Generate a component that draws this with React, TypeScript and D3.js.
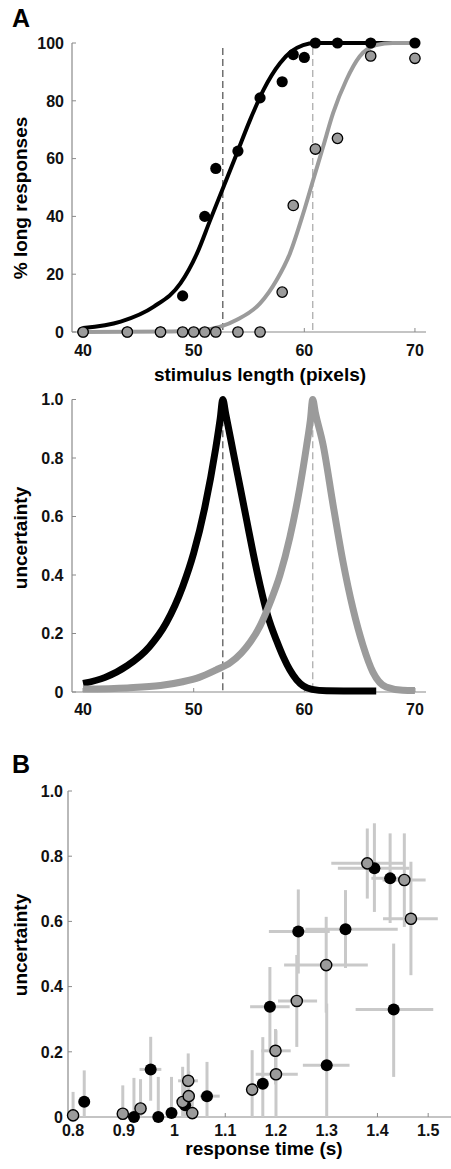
import React from "react";
import * as d3 from "d3";

// ---- panel A (top): psychometric data, % long responses ----
const stimBlack = [40, 44, 47, 49, 51, 52, 54, 56, 58, 59, 60, 61, 63, 66, 70];
const pctBlack = [0, 0, 0, 12.5, 40, 56.6, 62.6, 81, 86.6, 96, 95, 100, 100, 100, 100];
const stimGray = [40, 44, 47, 49, 50, 51, 52, 54, 56, 58, 59, 61, 63, 66, 70];
const pctGray = [0, 0, 0, 0, 0, 0, 0, 0, 0, 13.8, 43.8, 63.3, 67, 95.5, 94.7];

// fitted curves
const fitBlackX = [40, 43.4, 46.4, 48.8, 50.3, 51.5, 52.7, 53.9, 55.1, 56.3, 57.8, 58.8, 59.9, 61, 70];
const fitBlackY = [1.4, 3.6, 8.8, 16.8, 27.2, 38.8, 50.3, 61.8, 73.4, 83.7, 93, 97, 99.3, 100, 100];
const fitGrayX = [40, 48, 50.9, 53.9, 56, 57.5, 58.7, 59.9, 60.8, 61.7, 62.6, 63.8, 65, 66.5, 68, 70];
const fitGrayY = [0, 0.2, 0.7, 4.2, 9.9, 18, 27.2, 41, 52.6, 64.1, 75.7, 87.2, 95.3, 99.3, 100, 100];

// points of subjective equality (dashed lines)
const pse = [52.63, 60.76];

// ---- panel A (middle): uncertainty curves ----
const uncBlackX = [40, 42, 44, 46, 47.5, 49, 50, 51, 52, 52.4, 52.63, 52.9, 53.6, 54.2, 54.8, 55.4, 56, 56.7, 57.5, 58.1, 58.7, 59.3, 59.9, 60.7, 62, 66.5];
const uncBlackY = [0.029, 0.05, 0.09, 0.155, 0.235, 0.36, 0.475, 0.63, 0.835, 0.935, 1.0, 0.95, 0.815, 0.7, 0.585, 0.47, 0.365, 0.26, 0.175, 0.12, 0.075, 0.042, 0.021, 0.009, 0.004, 0.003];
const uncGrayX = [40, 44, 47, 49, 50.5, 52, 53.3, 54.3, 55.1, 56, 56.9, 57.8, 58.7, 59.6, 60.2, 60.55, 60.76, 61.0, 61.7, 62.6, 63.5, 64.4, 65.3, 66.2, 67.4, 68.9, 70];
const uncGrayY = [0.01, 0.014, 0.022, 0.035, 0.05, 0.075, 0.1, 0.133, 0.17, 0.226, 0.305, 0.4, 0.53, 0.7, 0.84, 0.93, 1.0, 0.955, 0.845, 0.64, 0.445, 0.285, 0.16, 0.068, 0.017, 0.006, 0.005];

// ---- panel B: uncertainty vs response time ----
const rtBlack = [0.822, 0.92, 0.953, 0.968, 0.994, 1.021, 1.064, 1.174, 1.188, 1.244, 1.3, 1.337, 1.394, 1.425, 1.432];
const unBlack = [0.047, 0, 0.146, 0, 0.012, 0.036, 0.064, 0.102, 0.338, 0.569, 0.159, 0.576, 0.763, 0.732, 0.33];
const rtBlackLo = [0.822, 0.92, 0.931, 0.968, 0.994, 1.021, 1.05, 1.174, 1.149, 1.186, 1.253, 1.258, 1.322, 1.388, 1.357];
const rtBlackHi = [0.822, 0.92, 0.974, 0.968, 0.994, 1.021, 1.089, 1.174, 1.227, 1.306, 1.345, 1.44, 1.463, 1.46, 1.51];
const unBlackLo = [0, 0, 0.05, 0, 0, 0, 0, 0, 0.205, 0.44, 0, 0.457, 0.629, 0.595, 0.123];
const unBlackHi = [0.143, 0.12, 0.246, 0.123, 0.123, 0.12, 0.169, 0.245, 0.46, 0.698, 0.348, 0.696, 0.901, 0.87, 0.532];

const rtGray = [0.8, 0.898, 0.933, 1.016, 1.027, 1.028, 1.035, 1.153, 1.2, 1.199, 1.241, 1.299, 1.38, 1.453, 1.466];
const unGray = [0.005, 0.01, 0.026, 0.046, 0.111, 0.064, 0.012, 0.084, 0.131, 0.203, 0.356, 0.466, 0.778, 0.727, 0.608];
const rtGrayLo = [0.8, 0.898, 0.933, 1.016, 1.007, 1.028, 1.035, 1.153, 1.16, 1.171, 1.204, 1.216, 1.309, 1.41, 1.411];
const rtGrayHi = [0.8, 0.898, 0.933, 1.016, 1.046, 1.028, 1.035, 1.153, 1.243, 1.229, 1.281, 1.381, 1.453, 1.495, 1.519];
const unGrayLo = [0, 0, 0, 0, 0.03, 0, 0, 0, 0, 0.1, 0.215, 0.32, 0.67, 0.583, 0.435];
const unGrayHi = [0.077, 0.097, 0.116, 0.154, 0.195, 0.14, 0.06, 0.205, 0.266, 0.27, 0.497, 0.614, 0.885, 0.87, 0.783];

// tick labels
const stimTicks = [40, 50, 60, 70];
const pctTicks = [0, 20, 40, 60, 80, 100];
const uncTicks = [0, 0.2, 0.4, 0.6, 0.8, 1.0];
const rtTicks = [0.8, 0.9, 1.0, 1.1, 1.2, 1.3, 1.4, 1.5];

const FONT = "'Liberation Sans', Arial, Helvetica, sans-serif";
const AXIS = "#8a8a8a";
const GRAY = "#9b9b9b";
const BAR = "#c9c9c9";

const xStim = d3.scaleLinear().domain([39, 71]).range([72, 426]);
const yPct = d3.scaleLinear().domain([0, 100]).range([332, 43]);
const yUnc = d3.scaleLinear().domain([0, 1]).range([692, 399.5]);
const xRt = d3.scaleLinear().domain([0.79, 1.545]).range([68, 451]);
const yB = d3.scaleLinear().domain([0, 1]).range([1117, 791]);

const fmtUnc = (d: number) => (d === 0 ? "0" : d3.format(".1f")(d));
const fmtRt = (d: number) => (d === 1 ? "1" : d3.format(".1f")(d));

function makeLine(xs: number[], ys: number[], xs_: any, ys_: any) {
  return d3
    .line<number>()
    .x((i) => xs_(xs[i]))
    .y((i) => ys_(ys[i]))
    .curve(d3.curveMonotoneX)(d3.range(xs.length)) as string;
}

function Axes({ x, y, xTicks, yTicks, fx, fy, xLabelY, yLabelX }: any) {
  const [x0, x1] = x.range();
  const [y0, y1] = y.range();
  return (
    <g fontFamily={FONT} fontWeight="bold" fontSize={16} fill="#111">
      <line x1={x0} x2={x1} y1={y0} y2={y0} stroke={AXIS} strokeWidth={1.2} />
      <line x1={x0} x2={x0} y1={y0} y2={y1} stroke={AXIS} strokeWidth={1.2} />
      {xTicks.map((t: number) => (
        <g key={"x" + t}>
          <line x1={x(t)} x2={x(t)} y1={y0} y2={y0 - 4} stroke={AXIS} />
          <text x={x(t)} y={xLabelY} textAnchor="middle">{fx(t)}</text>
        </g>
      ))}
      {yTicks.map((t: number) => (
        <g key={"y" + t}>
          <line x1={x0} x2={x0 + 4} y1={y(t)} y2={y(t)} stroke={AXIS} />
          <text x={yLabelX} y={y(t)} dy="0.36em" textAnchor="end">{fy(t)}</text>
        </g>
      ))}
    </g>
  );
}

function ErrorBars({ xs, ys, xlo, xhi, ylo, yhi }: any) {
  return (
    <g stroke={BAR} strokeWidth={3}>
      {xs.map((_: number, i: number) => (
        <g key={i}>
          <line x1={xRt(xs[i])} x2={xRt(xs[i])} y1={yB(ylo[i])} y2={yB(yhi[i])} />
          {xhi[i] > xlo[i] && (
            <line x1={xRt(xlo[i])} x2={xRt(xhi[i])} y1={yB(ys[i])} y2={yB(ys[i])} />
          )}
        </g>
      ))}
    </g>
  );
}

export default function App() {
  const dashColors = ["#666", "#b3b3b3"];
  return (
    <svg
      width={451}
      height={1169}
      style={{ position: "absolute", left: 0, top: 0, background: "#fff" }}
    >
      <rect width={451} height={1169} fill="#fff" />

      {/* panel letters */}
      <text x={12} y={27} fontFamily={FONT} fontWeight="bold" fontSize={25}>A</text>
      <text x={12} y={773} fontFamily={FONT} fontWeight="bold" fontSize={25}>B</text>

      {/* ===== A top ===== */}
      <Axes x={xStim} y={yPct} xTicks={stimTicks} yTicks={pctTicks} fx={(d: number) => d} fy={(d: number) => d} xLabelY={355.5} yLabelX={64} />
      {pse.map((p, i) => (
        <line key={"d1" + i} x1={xStim(p)} x2={xStim(p)} y1={yPct(98.3)} y2={yPct(0)} stroke={dashColors[i]} strokeWidth={1.4} strokeDasharray="7,4" />
      ))}
      <path d={makeLine(fitBlackX, fitBlackY, xStim, yPct)} fill="none" stroke="#000" strokeWidth={4} />
      <path d={makeLine(fitGrayX, fitGrayY, xStim, yPct)} fill="none" stroke={GRAY} strokeWidth={4} />
      {stimBlack.map((s, i) => (
        <circle key={"pb" + i} cx={xStim(s)} cy={yPct(pctBlack[i])} r={5.6} fill="#000" />
      ))}
      {stimGray.map((s, i) => (
        <circle key={"pg" + i} cx={xStim(s)} cy={yPct(pctGray[i])} r={5.2} fill={GRAY} stroke="#000" strokeWidth={1.3} />
      ))}
      <text x={260} y={381} textAnchor="middle" fontFamily={FONT} fontWeight="bold" fontSize={19}>stimulus length (pixels)</text>
      <text transform="translate(27,198) rotate(-90)" textAnchor="middle" fontFamily={FONT} fontWeight="bold" fontSize={19}>% long responses</text>

      {/* ===== A middle ===== */}
      <Axes x={xStim} y={yUnc} xTicks={stimTicks} yTicks={uncTicks} fx={(d: number) => d} fy={fmtUnc} xLabelY={715} yLabelX={63.5} />
      {pse.map((p, i) => (
        <line key={"d2" + i} x1={xStim(p)} x2={xStim(p)} y1={yUnc(0.97)} y2={yUnc(0)} stroke={dashColors[i]} strokeWidth={1.4} strokeDasharray="7,4" />
      ))}
      <path d={makeLine(uncBlackX, uncBlackY, xStim, yUnc)} fill="none" stroke="#000" strokeWidth={7} />
      <path d={makeLine(uncGrayX, uncGrayY, xStim, yUnc)} fill="none" stroke={GRAY} strokeWidth={7} />
      <text transform="translate(27,538) rotate(-90)" textAnchor="middle" fontFamily={FONT} fontWeight="bold" fontSize={19}>uncertainty</text>

      {/* ===== B ===== */}
      <Axes x={xRt} y={yB} xTicks={rtTicks} yTicks={uncTicks} fx={fmtRt} fy={fmtUnc} xLabelY={1135.5} yLabelX={63} />
      <ErrorBars xs={rtBlack} ys={unBlack} xlo={rtBlackLo} xhi={rtBlackHi} ylo={unBlackLo} yhi={unBlackHi} />
      <ErrorBars xs={rtGray} ys={unGray} xlo={rtGrayLo} xhi={rtGrayHi} ylo={unGrayLo} yhi={unGrayHi} />
      {rtBlack.map((r, i) => (
        <circle key={"bb" + i} cx={xRt(r)} cy={yB(unBlack[i])} r={6} fill="#000" />
      ))}
      {rtGray.map((r, i) => (
        <circle key={"bg" + i} cx={xRt(r)} cy={yB(unGray[i])} r={5.6} fill={GRAY} stroke="#000" strokeWidth={1.4} />
      ))}
      <text x={264} y={1155} textAnchor="middle" fontFamily={FONT} fontWeight="bold" fontSize={19}>response time (s)</text>
      <text transform="translate(27,945) rotate(-90)" textAnchor="middle" fontFamily={FONT} fontWeight="bold" fontSize={19}>uncertainty</text>
    </svg>
  );
}
